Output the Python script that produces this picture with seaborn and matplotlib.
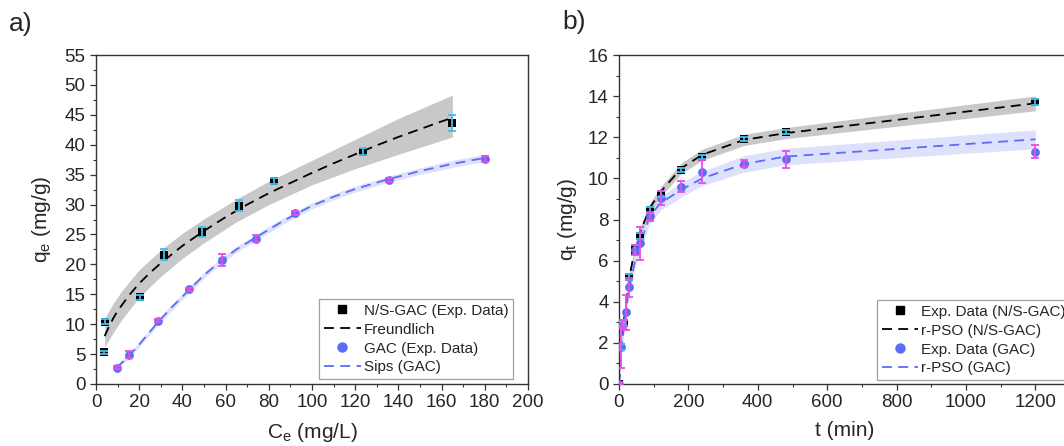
import matplotlib
matplotlib.use("Agg")
import matplotlib.pyplot as plt
import seaborn as sns
import numpy as np
from matplotlib.lines import Line2D
from matplotlib.ticker import MultipleLocator

# ---------------- a) isotherms ----------------
ce_ns = [3.5, 4.0, 20.5, 31.4, 49.0, 66.0, 82.3, 123.5, 164.7]
qe_ns = [5.3, 10.4, 14.5, 21.6, 25.4, 29.8, 33.9, 38.8, 43.6]
err_ns = [0.3, 0.4, 0.4, 0.9, 0.9, 0.9, 0.5, 0.6, 1.3]

ce_fr = [4, 6, 8, 10, 12, 15, 20, 25, 30, 40, 50, 60, 70, 80, 90, 100,
         110, 120, 130, 140, 150, 160, 165]
q_fr = [8.0, 9.6, 11.0, 12.2, 13.2, 14.7, 16.8, 18.6, 20.2, 23.1, 25.6,
        27.9, 30.0, 31.9, 33.6, 35.3, 36.9, 38.4, 39.9, 41.3, 42.6, 43.9, 44.5]
ce_fr_band = [4, 8, 12, 20, 30, 40, 50, 65, 80, 100, 120, 140, 165]
fr_upper = [11.0, 13.5, 15.6, 19.1, 22.4, 25.2, 27.6, 30.9, 33.9, 37.4, 40.9, 44.4, 48.3]
fr_lower = [6.2, 8.6, 10.8, 14.5, 18.0, 21.0, 23.6, 27.1, 30.0, 33.3, 36.0, 38.4, 41.3]

ce_gac = [9.5, 15.5, 28.6, 43.0, 58.2, 74.3, 91.9, 135.6, 180.2]
qe_gac = [2.7, 4.9, 10.6, 15.8, 20.8, 24.3, 28.6, 34.1, 37.6]
err_gac = [0.25, 0.6, 0.3, 0.3, 1.0, 0.6, 0.3, 0.3, 0.5]

ce_sips = [9.5, 15, 20, 28.6, 35, 43, 50, 58, 65, 74, 85, 92, 100, 110,
           120, 135, 150, 165, 180]
q_sips = [2.7, 4.6, 6.6, 10.3, 12.8, 15.7, 18.2, 20.6, 22.5, 24.5, 26.9,
          28.3, 29.8, 31.3, 32.6, 34.2, 35.6, 36.8, 37.8]
sips_band = [0.3, 0.35, 0.4, 0.45, 0.5, 0.5, 0.5, 0.5, 0.5, 0.5, 0.5,
             0.5, 0.5, 0.5, 0.5, 0.5, 0.55, 0.6, 0.6]

# ---------------- b) kinetics ----------------
t_ns = [0, 5, 10, 15, 30, 45, 60, 90, 120, 180, 240, 360, 480, 1200]
q_ns = [0, 1.8, 2.85, 2.95, 5.2, 6.5, 7.2, 8.47, 9.25, 10.4, 11.05, 11.9, 12.26, 13.7]
e_ns = [0.05, 0.15, 0.15, 0.15, 0.15, 0.25, 0.15, 0.15, 0.15, 0.1, 0.1, 0.1, 0.1, 0.15]
pso_ns = [0, 1.4, 2.4, 3.2, 5.2, 6.5, 7.35, 8.6, 9.35, 10.5, 11.15, 11.87, 12.2, 13.65]
pso_ns_band = [0.05, 0.15, 0.2, 0.2, 0.22, 0.22, 0.22, 0.22, 0.24, 0.26, 0.27, 0.27, 0.27, 0.36]

t_gac = [0, 5, 10, 20, 30, 45, 60, 90, 120, 180, 240, 360, 480, 1200]
q_gac = [0, 1.8, 2.9, 3.5, 4.7, 6.5, 6.85, 8.15, 9.05, 9.6, 10.33, 10.72, 10.92, 11.3]
e_gac = [0.05, 1.0, 0.2, 0.85, 0.45, 0.25, 0.8, 0.2, 0.35, 0.25, 0.55, 0.15, 0.4, 0.3]
pso_gac = [0, 1.2, 2.2, 3.6, 4.7, 5.9, 6.8, 8.2, 8.8, 9.45, 10.0, 10.7, 11.06, 11.9]
pso_gac_band = [0.05, 0.3, 0.35, 0.35, 0.35, 0.35, 0.35, 0.35, 0.35, 0.35, 0.35, 0.4, 0.4, 0.46]

# colours
BLACK = "#000000"
CYAN = "#3FC0EE"
BLUE = "#5B6CF7"
MAGENTA = "#E64FE6"
GREY_BAND = "#C8C8C8"
BLUE_BAND = "#DEE1FB"
DASH = (0, (5.5, 3.5))

sns.set_style("ticks")
plt.rcParams["font.family"] = ["Liberation Sans", "DejaVu Sans"]
plt.rcParams["xtick.direction"] = "out"
plt.rcParams["ytick.direction"] = "out"

fig = plt.figure(figsize=(10.64, 4.46), dpi=100)
W, H = 1064, 446
ax1 = fig.add_axes([96 / W, 1 - 384 / H, (528 - 96) / W, (384 - 55) / H])
ax2 = fig.add_axes([619 / W, 1 - 384 / H, 1300 * 0.347 / W, (384 - 55) / H])


def style_axes(ax):
    for sp in ax.spines.values():
        sp.set_visible(True)
        sp.set_color("#333333")
        sp.set_linewidth(1.0)
    ax.tick_params(axis="both", which="major", length=4.5, width=0.9,
                   labelsize=13.5, color="#333333", pad=3)
    ax.tick_params(axis="both", which="minor", length=2.5, width=0.8,
                   color="#333333")
    ax.tick_params(top=False, right=False, which="both")


# ---- panel a ----
ax1.fill_between(ce_fr_band, fr_lower, fr_upper, color=GREY_BAND, lw=0, zorder=1)
sips_lo = [q - w for q, w in zip(q_sips, sips_band)]
sips_hi = [q + w for q, w in zip(q_sips, sips_band)]
ax1.fill_between(ce_sips, sips_lo, sips_hi, color=BLUE_BAND, lw=0, zorder=1)
sns.lineplot(x=ce_fr, y=q_fr, ax=ax1, color=BLACK, lw=1.3, linestyle=DASH,
             zorder=2, sort=False)
sns.lineplot(x=ce_sips, y=q_sips, ax=ax1, color=BLUE, lw=1.3, linestyle=DASH,
             zorder=2, sort=False)
sns.scatterplot(x=ce_ns, y=qe_ns, ax=ax1, marker="s", color=BLACK, s=32,
                linewidth=0, zorder=3)
sns.scatterplot(x=ce_gac, y=qe_gac, ax=ax1, marker="o", color=BLUE, s=40,
                linewidth=0, zorder=3)
ax1.errorbar(ce_ns, qe_ns, yerr=err_ns, fmt="none", ecolor=CYAN, elinewidth=1.3,
             capsize=3, capthick=1.3, zorder=4)
ax1.errorbar(ce_gac, qe_gac, yerr=err_gac, fmt="none", ecolor=MAGENTA,
             elinewidth=1.3, capsize=3, capthick=1.3, zorder=4)

ax1.set_xlim(0, 200)
ax1.set_ylim(0, 55)
ax1.xaxis.set_major_locator(MultipleLocator(20))
ax1.xaxis.set_minor_locator(MultipleLocator(10))
ax1.yaxis.set_major_locator(MultipleLocator(5))
ax1.yaxis.set_minor_locator(MultipleLocator(2.5))
ax1.set_xlabel(r"$\mathregular{C_e}$ (mg/L)", fontsize=15, labelpad=7)
ax1.set_ylabel(r"$\mathregular{q_e}$ (mg/g)", fontsize=15, labelpad=8)
style_axes(ax1)

h1 = [Line2D([], [], marker="s", color=BLACK, ls="none", markersize=5.5),
      Line2D([], [], color=BLACK, lw=1.3, ls=DASH),
      Line2D([], [], marker="o", color=BLUE, ls="none", markersize=6.5),
      Line2D([], [], color=BLUE, lw=1.3, ls=DASH)]
leg1 = ax1.legend(h1, ["N/S-GAC (Exp. Data)", "Freundlich", "GAC (Exp. Data)", "Sips (GAC)"],
                  loc="lower right", bbox_to_anchor=(513 / W, 1 - 379 / H),
                  bbox_transform=fig.transFigure, borderaxespad=0,
                  fontsize=11, frameon=True, fancybox=False, framealpha=1,
                  edgecolor="#A0A0A0", borderpad=0.3, labelspacing=0.32,
                  handlelength=2.4, handletextpad=0.2)
leg1.get_frame().set_linewidth(0.9)

# ---- panel b ----
ns_lo = [q - w for q, w in zip(pso_ns, pso_ns_band)]
ns_hi = [q + w for q, w in zip(pso_ns, pso_ns_band)]
gac_lo = [q - w for q, w in zip(pso_gac, pso_gac_band)]
gac_hi = [q + w for q, w in zip(pso_gac, pso_gac_band)]
ax2.fill_between(t_gac, gac_lo, gac_hi, color=BLUE_BAND, lw=0, zorder=1)
ax2.fill_between(t_ns, ns_lo, ns_hi, color=GREY_BAND, lw=0, zorder=1)
sns.lineplot(x=t_ns, y=pso_ns, ax=ax2, color=BLACK, lw=1.3, linestyle=DASH,
             zorder=2, sort=False)
sns.lineplot(x=t_gac, y=pso_gac, ax=ax2, color=BLUE, lw=1.3, linestyle=DASH,
             zorder=2, sort=False)
sns.scatterplot(x=t_ns, y=q_ns, ax=ax2, marker="s", color=BLACK, s=32,
                linewidth=0, zorder=3)
sns.scatterplot(x=t_gac, y=q_gac, ax=ax2, marker="o", color=BLUE, s=40,
                linewidth=0, zorder=3)
ax2.errorbar(t_ns, q_ns, yerr=e_ns, fmt="none", ecolor=CYAN, elinewidth=1.3,
             capsize=3, capthick=1.3, zorder=4)
ax2.errorbar(t_gac, q_gac, yerr=e_gac, fmt="none", ecolor=MAGENTA,
             elinewidth=1.3, capsize=3, capthick=1.3, zorder=4)

ax2.set_xlim(0, 1300)
ax2.set_ylim(0, 16)
ax2.xaxis.set_major_locator(MultipleLocator(200))
ax2.xaxis.set_minor_locator(MultipleLocator(100))
ax2.yaxis.set_major_locator(MultipleLocator(2))
ax2.yaxis.set_minor_locator(MultipleLocator(1))
ax2.set_xlabel("t (min)", fontsize=15, labelpad=7)
ax2.set_ylabel(r"$\mathregular{q_t}$ (mg/g)", fontsize=15, labelpad=6)
style_axes(ax2)

h2 = [Line2D([], [], marker="s", color=BLACK, ls="none", markersize=5.5),
      Line2D([], [], color=BLACK, lw=1.3, ls=DASH),
      Line2D([], [], marker="o", color=BLUE, ls="none", markersize=6.5),
      Line2D([], [], color=BLUE, lw=1.3, ls=DASH)]
leg2 = ax2.legend(h2, ["Exp. Data (N/S-GAC)", "r-PSO (N/S-GAC)", "Exp. Data (GAC)", "r-PSO (GAC)"],
                  loc="lower left", bbox_to_anchor=(877 / W, 1 - 380 / H),
                  bbox_transform=fig.transFigure, borderaxespad=0,
                  fontsize=11, frameon=True, fancybox=False, framealpha=1,
                  edgecolor="#A0A0A0", borderpad=0.3, labelspacing=0.32,
                  handlelength=2.4, handletextpad=0.2)
leg2.get_frame().set_linewidth(0.9)

fig.text(9 / W, 1 - 24 / H, "a)", fontsize=19, va="center", ha="left")
fig.text(562 / W, 1 - 22 / H, "b)", fontsize=19, va="center", ha="left")

fig.savefig("out.png", dpi=100)
